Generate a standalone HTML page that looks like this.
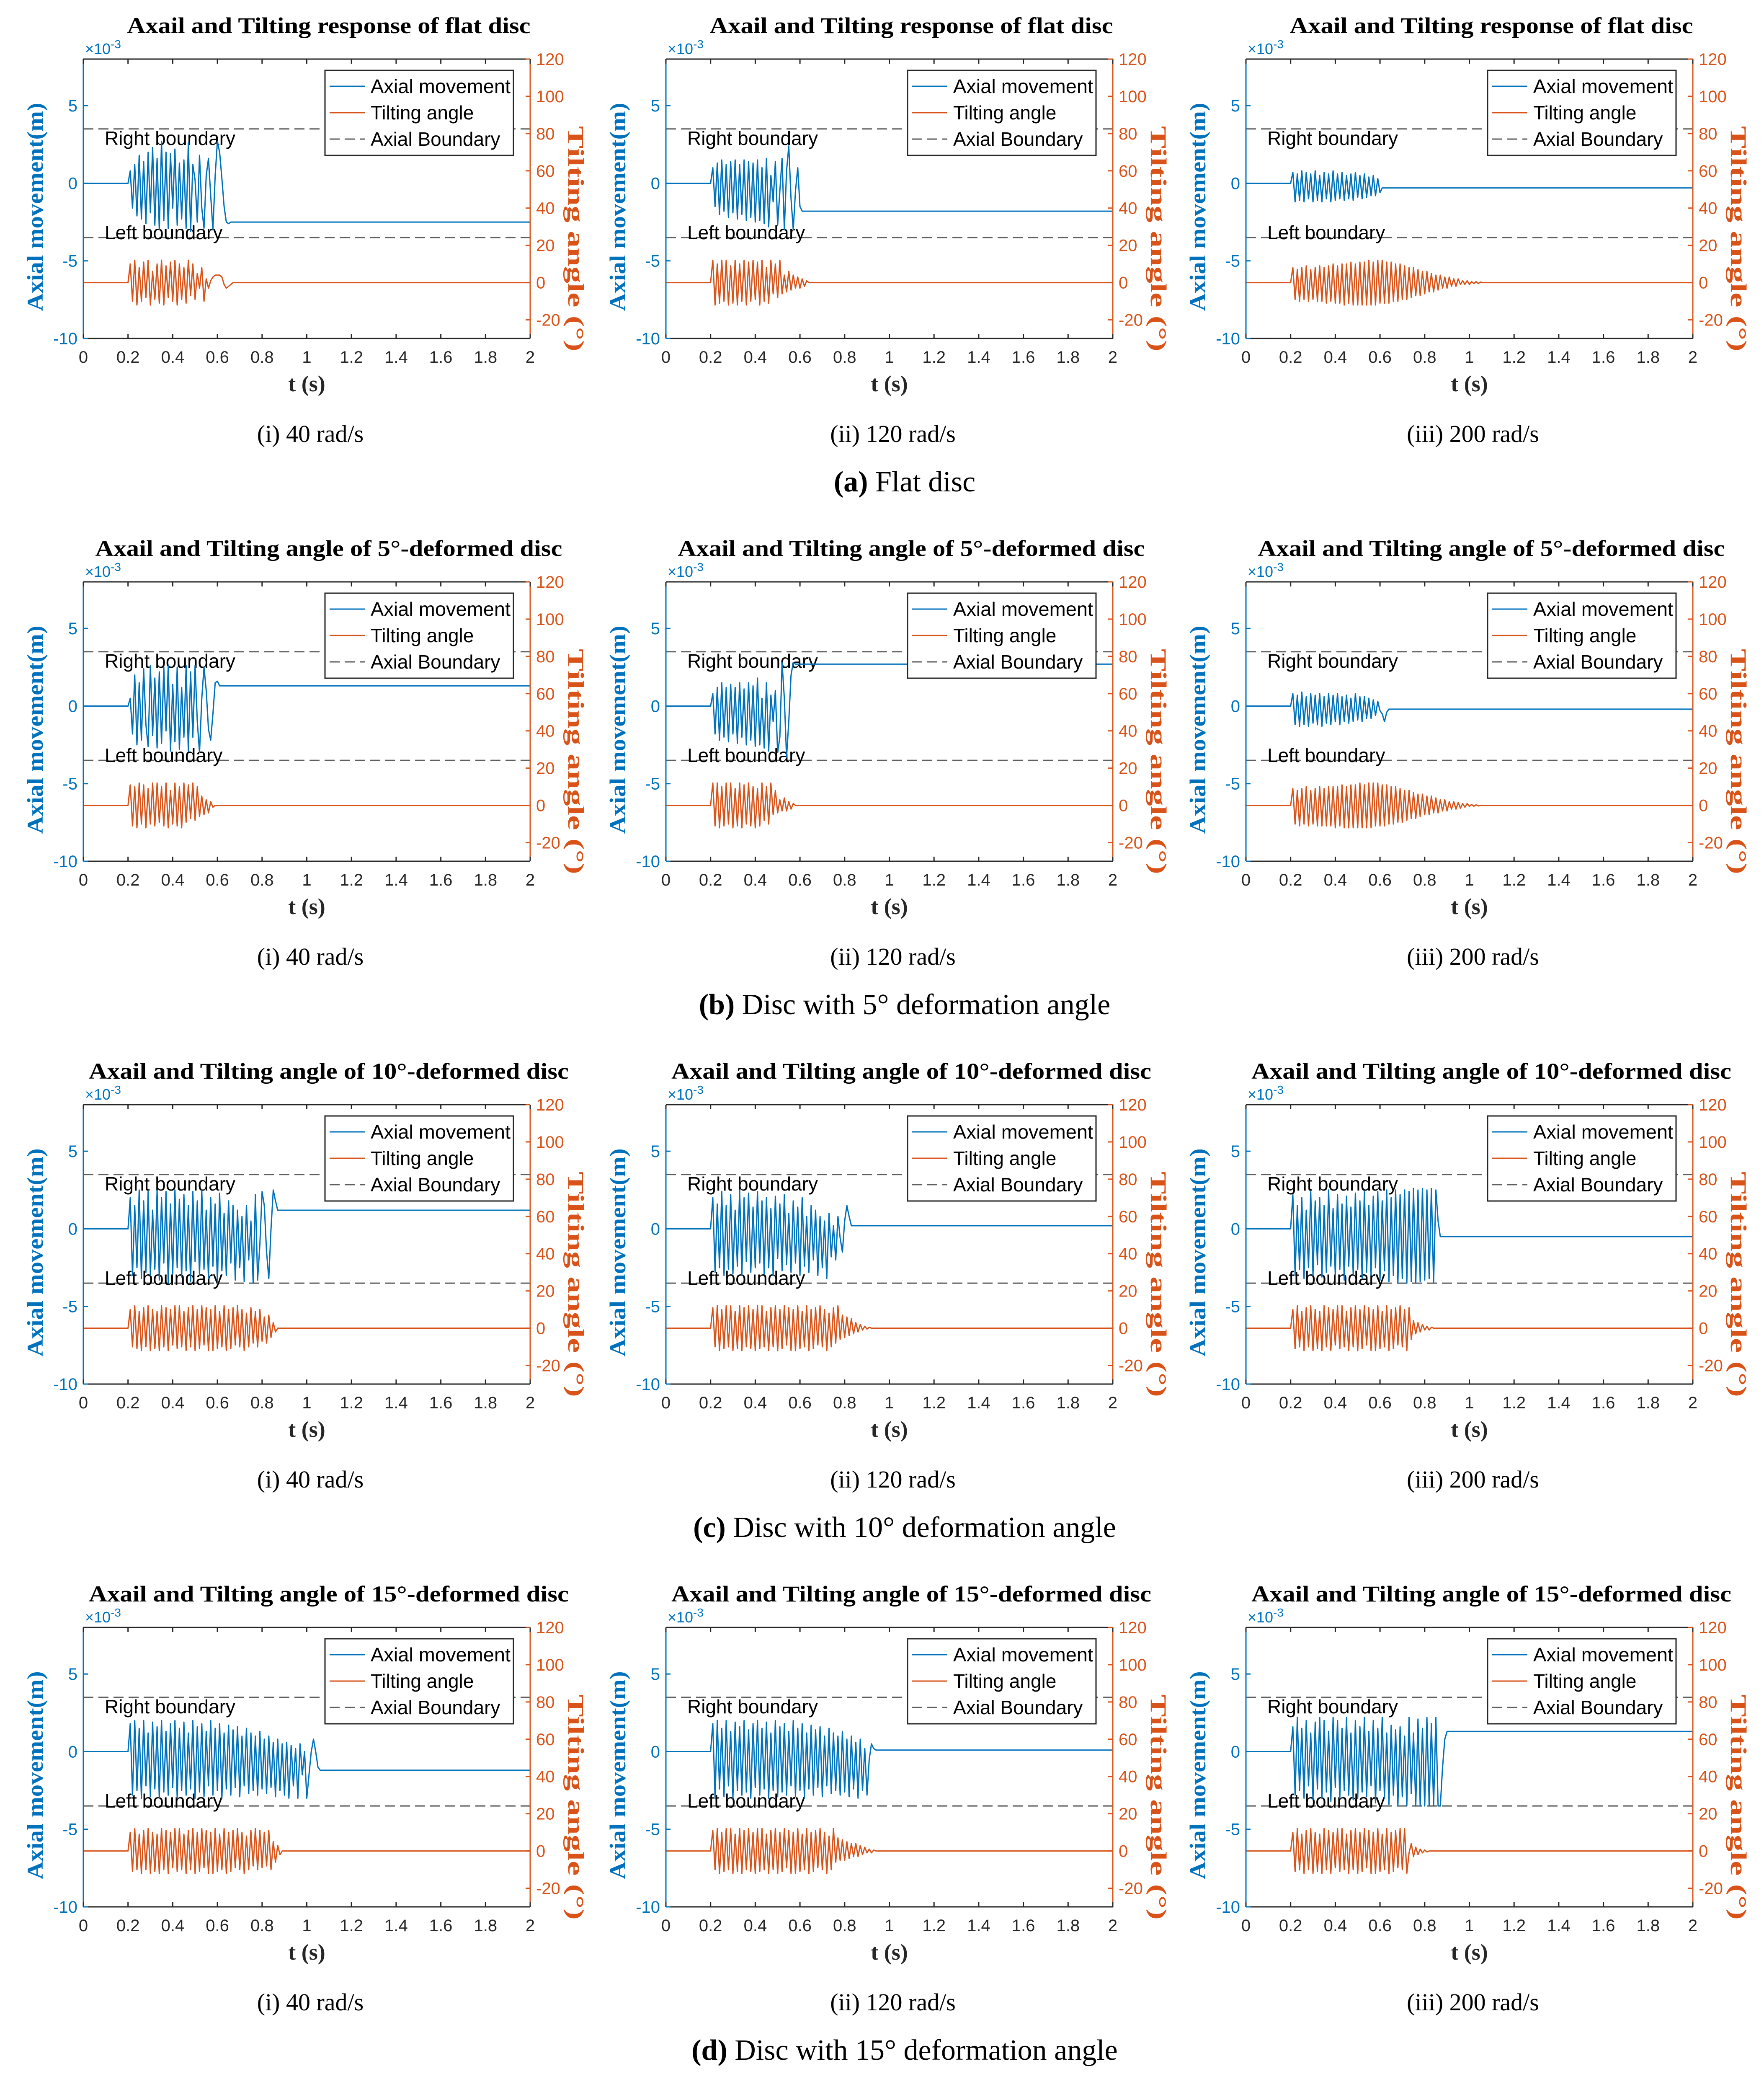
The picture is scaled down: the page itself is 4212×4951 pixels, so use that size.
<!DOCTYPE html>
<html><head><meta charset="utf-8"><style>
html,body{margin:0;padding:0;background:#fff;}
svg{display:block;}
</style></head><body>
<svg id="fig" xmlns="http://www.w3.org/2000/svg" width="4212" height="4951" viewBox="0 0 4212 4951">
<rect width="4212" height="4951" fill="#fff"/>
</svg>
<script>
// ---- data (t starts at 0.2 s, step 0.01 s; before start value 0; after end hold last value) ----
const xTicks = [0,0.2,0.4,0.6,0.8,1,1.2,1.4,1.6,1.8,2];
const xTickLabels = ['0','0.2','0.4','0.6','0.8','1','1.2','1.4','1.6','1.8','2'];
const yLeftTicks = [-10,-5,0,5];
const yRightTicks = [-20,0,20,40,60,80,100,120];
const boundaries = [3.5,-3.5];
const rowTitles = ['Axail and Tilting response of flat disc','Axail and Tilting angle of 5°-deformed disc','Axail and Tilting angle of 10°-deformed disc','Axail and Tilting angle of 15°-deformed disc'];
const colSubtitles = ['(i) 40 rad/s','(ii) 120 rad/s','(iii) 200 rad/s'];
const captionTags = ['(a)','(b)','(c)','(d)'];
const captionTexts = ['Flat disc','Disc with 5° deformation angle','Disc with 10° deformation angle','Disc with 15° deformation angle'];
const tStart = 0.2, tStep = 0.01;

const axial_r1c1=[0,0.8,-1.6,1.2,-2.1,1.8,-2.3,1.4,-2.6,2.0,-1.9,2.3,-2.7,1.6,-3.0,2.7,-2.4,2.0,-2.9,1.9,-1.6,2.2,-2.7,1.3,-2.3,1.5,-2.9,2.6,-3.1,1.2,0.2,-2.5,1.8,-1.6,-2.9,0.5,1.6,-0.8,-3.0,0.5,2.7,2.0,0.3,-1.5,-2.5,-2.6,-2.5,-2.5];
const tilt_r1c1=[0,10,-10,12,-12,8,-10,11,-8,12,-12,6,-9,10,-11,12,-12,9,-8,11,-10,12,-12,10,-9,8,-11,12,-7,10,-9,5,-3,8,-10,2,-3,1,3,4,4,4,3,-1,-3,-2,-1,0,0];
const axial_r1c2=[0,1,-1.5,1.3,-2,1.5,-1.8,1.2,-2.2,1.4,-1.9,1.5,-2.3,1.2,-2,1.5,-2.4,1.4,-2.2,1.3,-2.5,1.5,-2.4,1,-2.6,1.6,-2.8,0.5,-1.2,1.4,-2.7,-0.5,1.6,-3,0.8,2.4,-1,-3,-0.5,1,-1.5,-1.8,-1.8,-1.8];
const tilt_r1c2=[0,12,-12,10,-11,12,-10,12,-12,9,-11,12,-12,10,-10,12,-12,11,-10,12,-9,11,-12,12,-10,8,-11,12,-6,10,-8,12,-6,4,-5,6,-4,4,-3,3,-3,2,-2,1,0,0,0];
const axial_r1c3=[0,0.7,-1.2,0.6,-1.1,0.8,-1.2,0.7,-1,0.6,-1.2,0.8,-1.1,0.5,-1.2,0.7,-1,0.6,-1.2,0.8,-1.1,0.6,-1,0.7,-1.1,0.5,-1,0.6,-1.1,0.7,-0.9,0.5,-1,0.6,-0.9,0.4,-0.8,0.5,-0.8,0.3,-0.6,-0.3,-0.3];
const tilt_r1c3=[0,8,-9,7,-10,8,-9,9,-10,7,-9,8,-10,9,-10,8,-11,9,-10,10,-11,9,-11,10,-12,10,-11,11,-12,10,-12,11,-12,11,-12,12,-12,11,-12,12,-11,12,-11,11,-11,11,-10,10,-10,10,-9,9,-9,8,-8,8,-7,7,-7,6,-6,6,-5,5,-5,4,-4,4,-3,3,-3,3,-2,2,-2,2,-1,1,-1,1,-1,0.5,-0.5,0.5,-0.5,0.3,0,0];
const axial_r2c1=[0,0.5,-1.8,2,-2.5,1.5,-2.2,2.4,-1.2,-2.6,2.6,-1.9,1.8,-2.7,2.2,-2.4,2.5,-1.6,2.6,-2.9,1.4,-2.3,2.5,-2.8,1.2,-2,2.6,-2.9,2.2,-2,2.6,-1,-3,0.5,2.5,1,-1.5,-2.2,-0.5,1.5,1.6,1.3,1.3];
const tilt_r2c1=[0,11,-11,10,-12,12,-10,11,-12,9,-10,12,-11,12,-9,10,-11,12,-12,8,-10,12,-11,10,-12,12,-9,11,-7,12,-8,10,-6,5,-5,3,-4,2,-1,0,0,0];
const axial_r2c2=[0,0.8,-1.8,1.2,-2.2,1.5,-2,1.2,-2.3,1.4,-1.8,1.2,-2.4,1.5,-2,1.1,-2.5,1.5,-2.2,1.3,-2.6,1.8,-2.5,0.5,-2.7,1.5,-2.9,0.7,-1,1,-3,-2,2.8,0.5,-3.3,-1,2,2.8,2.7,2.7];
const tilt_r2c2=[0,12,-11,12,-12,10,-11,12,-10,12,-12,9,-11,12,-12,11,-10,12,-11,10,-12,9,-11,12,-8,10,-10,12,-5,8,-4,3,-3,4,-3,2,-2,1,0,0,0];
const axial_r2c3=[0,0.8,-1.2,0.7,-1.3,0.9,-1.2,0.6,-1.3,0.8,-1.1,0.7,-1.2,0.8,-1.3,0.6,-1.1,0.8,-1.2,0.7,-1,0.8,-1.2,0.6,-1,0.7,-1.1,0.5,-1,0.8,-0.9,0.6,-1,0.6,-0.8,0.5,-0.8,0.4,-0.6,0.3,-0.3,-0.5,-1,-0.4,-0.2,-0.2];
const tilt_r2c3=[0,9,-10,8,-11,9,-10,10,-11,8,-10,9,-11,10,-11,9,-11,10,-11,10,-12,10,-11,11,-12,10,-12,11,-12,11,-12,12,-12,11,-12,12,-12,12,-11,12,-11,11,-11,11,-10,10,-10,10,-9,9,-9,8,-8,8,-7,7,-7,6,-6,6,-5,5,-5,5,-4,4,-4,3,-3,3,-3,2,-2,2,-2,1.5,-1.5,1,-1,1,-0.5,0.5,-0.5,0.3,-0.3,0,0,0];
const axial_r3c1=[0,2,-3,1.5,-2.5,2.5,-3.2,1.8,-2.8,2.4,-3,1.2,-2.6,2.5,-3.3,2,-2.2,2.4,-3.5,1.6,-2.9,2.5,-2.5,1.9,-3.1,2.2,-2.7,1.5,-3.4,2.4,-2.1,1.8,-3,2.5,-2.6,1.2,-3.2,2,-2.4,1.6,-3.5,2.3,-2.7,1,-3,1.8,-2.2,1.5,-3.3,1.2,-2.5,0.8,-3.4,1.5,-2,0.5,-3.5,2.2,-3.3,-1,2.4,1.5,-1.5,-3.2,0,2.5,1.8,1.2,1.2];
const tilt_r3c1=[0,10,-10,12,-11,9,-12,11,-10,12,-12,10,-11,9,-12,12,-10,11,-12,10,-9,12,-11,12,-10,9,-12,11,-10,12,-12,10,-11,12,-9,11,-12,10,-12,12,-11,9,-10,12,-12,10,-11,11,-9,12,-10,10,-12,8,-10,11,-8,9,-10,10,-7,6,-8,7,-5,3,-2,0,0];
const axial_r3c2=[0,2,-2.8,1.6,-2.5,2.4,-3,1.5,-2.6,2.2,-2.9,1.2,-2.4,2.5,-3,2,-2.1,2.3,-2.8,1.4,-2.5,2.4,-2.2,1.8,-2.9,2,-2.5,1.3,-3,2.1,-1.9,1.6,-2.7,2.2,-2.3,1,-2.8,1.8,-2.2,1.4,-3,2,-2.4,0.8,-2.8,1.5,-2,1.2,-3,0.8,-2.5,0.5,-3.2,1,-1.8,0.2,-2,0.8,-0.6,-1.5,0.5,1.5,0.8,0.2,0.2];
const tilt_r3c2=[0,11,-10,12,-12,10,-11,12,-10,12,-12,9,-11,12,-12,11,-10,12,-11,10,-12,12,-11,12,-10,9,-12,11,-10,12,-12,10,-11,12,-9,11,-12,10,-12,12,-11,9,-10,12,-12,10,-11,11,-9,12,-10,10,-12,8,-10,11,-8,12,-6,7,-5,6,-4,5,-3,3,-2,2,-1,1,-0.5,0.5,0,0];
const axial_r3c3=[0,2.2,-3,1.5,-2.6,2,-3.2,1.2,-2.5,2.4,-3,1.8,-2.3,2,-3.1,1.5,-2.8,2.5,-2.4,1.3,-3,2.2,-2.6,1.6,-3.3,2.1,-2.4,1.4,-2.9,2.3,-2.6,1.8,-3.2,2.4,-2.8,1.5,-3,2.1,-2.5,2.4,-3.3,1.8,-2.7,2.5,-3.4,2,-3,2.5,-3.5,2.2,-3.2,2.5,-3.5,2.4,-3.4,2.6,-3.5,2.5,-3.4,2.6,-3.3,2.5,-3.2,2.6,-3.5,2.5,0.5,-0.5,-0.5];
const tilt_r3c3=[0,10,-11,12,-10,9,-12,11,-10,12,-12,10,-11,9,-12,12,-10,11,-12,10,-9,12,-11,12,-10,9,-12,11,-10,12,-12,10,-11,12,-9,11,-12,10,-12,12,-11,9,-10,12,-12,10,-11,11,-9,12,-10,10,-12,11,-6,4,-3,3,-2,2,-1,1,-1,0.5,0,0];
const axial_r4c1=[0,1.8,-2.8,2,-2.5,1.5,-3,2,-2.2,1.2,-2.9,1.9,-2.4,1.6,-3,2,-2.6,1.3,-2.8,1.8,-2.3,2,-3,1.5,-2.5,1.9,-2.8,1.2,-2.4,2,-3,1.6,-2.6,1.8,-2.9,1.3,-2.2,2,-2.8,1.5,-2.5,1.8,-3,1.2,-2.4,1.7,-2.8,1.4,-2.3,1.6,-2.9,1,-2.2,1.5,-2.7,1.2,-2.5,1,-2.8,1.3,-2.4,0.8,-2.7,1,-2.3,0.6,-2.9,0.8,-2.5,0.5,-2.8,0.6,-3,0.4,-2.2,0.2,-3,0.5,-1.5,0,-3,-1.5,0,0.8,0,-1,-1.2,-1.2];
const tilt_r4c1=[0,10,-11,12,-10,9,-12,11,-10,12,-12,10,-11,9,-12,12,-10,11,-12,10,-9,12,-11,12,-10,9,-12,11,-10,12,-12,10,-11,12,-9,11,-12,10,-12,12,-11,9,-10,12,-12,10,-11,11,-9,12,-10,10,-12,8,-10,11,-8,12,-10,11,-9,10,-8,11,-10,5,-6,3,-2,0,0];
const axial_r4c2=[0,1.8,-3,2,-2.4,1.5,-2.9,2,-2.2,1.3,-3,1.9,-2.5,1.6,-2.8,2,-2.6,1.4,-3,1.8,-2.3,2,-2.8,1.5,-2.4,1.9,-3,1.2,-2.5,2,-2.9,1.6,-2.6,1.8,-2.8,1.3,-2.2,2,-2.9,1.5,-2.5,1.8,-3,1.2,-2.4,1.7,-2.8,1.4,-2.3,1.6,-2.9,1,-2.2,1.5,-2.7,1.2,-2.5,1,-2.8,1.3,-2.6,0.8,-2.9,1,-2.4,0.6,-3,0.8,-2.5,0.2,-2.8,-0.5,0.5,0.2,0.1,0.1];
const tilt_r4c2=[0,11,-10,12,-12,10,-11,12,-10,12,-12,9,-11,12,-12,11,-10,12,-11,10,-12,12,-11,12,-10,9,-12,11,-10,12,-12,10,-11,12,-9,11,-12,10,-12,12,-11,9,-10,12,-12,10,-11,11,-9,12,-10,10,-12,8,-10,12,-6,7,-5,6,-5,5,-4,4,-3,4,-3,3,-2,2,-1,1,-1,0.5,0,0];
const axial_r4c3=[0,1.6,-2.8,2.2,-2.5,1.5,-3,2,-2.2,1.2,-3.1,1.9,-2.4,2.2,-3,2,-2.6,1.3,-3.2,2.2,-2.3,2,-3,1.5,-2.5,2.2,-2.8,1.2,-3.1,2,-3,1.6,-2.6,2.2,-2.9,1.3,-2.2,2,-3.3,1.5,-2.5,2.2,-3,1.2,-3.4,1.7,-2.8,1.4,-3.5,1.6,-2.9,1,-3.5,2.2,-2.7,1.2,-3.5,2.1,-3.5,1.5,-3.5,2.2,-3.5,1.8,-3.5,2.2,-3.5,-3.5,-1,0.8,1.3,1.3];
const tilt_r4c3=[0,10,-11,12,-10,9,-12,11,-10,12,-12,10,-11,9,-12,12,-10,11,-12,10,-9,12,-11,12,-10,9,-12,11,-10,12,-12,10,-11,12,-9,11,-12,10,-12,12,-11,9,-10,12,-12,10,-11,11,-9,12,-10,12,-12,-1,4,-3,2,-2,1,-1,0.5,-0.5,0,0];

const axialSeries=[[axial_r1c1,axial_r1c2,axial_r1c3],[axial_r2c1,axial_r2c2,axial_r2c3],[axial_r3c1,axial_r3c2,axial_r3c3],[axial_r4c1,axial_r4c2,axial_r4c3]];
const tiltSeries=[[tilt_r1c1,tilt_r1c2,tilt_r1c3],[tilt_r2c1,tilt_r2c2,tilt_r2c3],[tilt_r3c1,tilt_r3c2,tilt_r3c3],[tilt_r4c1,tilt_r4c2,tilt_r4c3]];

// ---- layout ----
const NS='http://www.w3.org/2000/svg';
const svg=document.getElementById('fig');
const COLS=[199,1590,2975], ROW0=141, PITCH=1248, W=1067, H=667;
const BLUE='#0072BD', ORANGE='#D95319', DARK='#262626';
const titleLens=[963,1115,1146,1146];
function el(tag,attrs,parent,txt){const e=document.createElementNS(NS,tag);for(const k in attrs)e.setAttribute(k,attrs[k]);if(txt!==undefined)e.textContent=txt;(parent||svg).appendChild(e);return e;}

function seriesPath(vals,xs,ys){
  let d='M'+xs(0)+','+ys(0)+' L'+xs(tStart)+','+ys(0);
  for(let i=0;i<vals.length;i++){d+=' L'+xs(tStart+i*tStep).toFixed(1)+','+ys(vals[i]).toFixed(1);}
  d+=' L'+xs(2)+','+ys(vals[vals.length-1]).toFixed(1);
  return d;
}

for(let r=0;r<4;r++){
  const T=ROW0+r*PITCH;
  for(let c=0;c<3;c++){
    const L=COLS[c];
    const g=el('g',{});
    
    
    const xs=t=>L+t/2*W;
    const ysL=v=>T+(8-v)/18*H;
    const ysR=v=>T+(120-v)/150*H;
    const ti=el('text',{x:L+586,y:T-62,'text-anchor':'middle','font-family':'"Liberation Serif",serif','font-weight':'bold','font-size':54,textLength:titleLens[r],lengthAdjust:'spacingAndGlyphs',fill:'#000'},g,rowTitles[r]);
    
    
    boundaries.forEach(b=>{
      const ln=el('line',{x1:L,x2:L+W,y1:ysL(b),y2:ysL(b),stroke:'#5f5f5f','stroke-width':3,'stroke-dasharray':'24,12'},g);
      
      
    });
    const rb=el('text',{x:L+51,y:ysL(3.5)+38,'font-family':'"Liberation Sans",sans-serif','font-size':46,fill:'#000'},g,'Right boundary');
    
    
    const lb=el('text',{x:L+51,y:ysL(-3.5)+4,'font-family':'"Liberation Sans",sans-serif','font-size':46,fill:'#000'},g,'Left boundary');
    
    
    const pa=el('path',{d:seriesPath(axialSeries[r][c],xs,ysL),fill:'none',stroke:BLUE,'stroke-width':3,'stroke-linejoin':'round'},g);
    
    
    const pt=el('path',{d:seriesPath(tiltSeries[r][c],xs,ysR),fill:'none',stroke:ORANGE,'stroke-width':3,'stroke-linejoin':'round'},g);
    
    
    el('line',{x1:L,x2:L+W,y1:T,y2:T,stroke:DARK,'stroke-width':3},g);
    el('line',{x1:L,x2:L+W,y1:T+H,y2:T+H,stroke:DARK,'stroke-width':3},g);
    el('line',{x1:L,x2:L,y1:T,y2:T+H,stroke:BLUE,'stroke-width':3},g);
    el('line',{x1:L+W,x2:L+W,y1:T,y2:T+H,stroke:ORANGE,'stroke-width':3},g);
    xTicks.forEach((t,i)=>{
      el('line',{x1:xs(t),x2:xs(t),y1:T+H,y2:T+H-11,stroke:DARK,'stroke-width':3},g);
      el('line',{x1:xs(t),x2:xs(t),y1:T,y2:T+11,stroke:DARK,'stroke-width':3},g);
      const tl=el('text',{x:xs(t),y:T+H+58,'text-anchor':'middle','font-family':'"Liberation Sans",sans-serif','font-size':40,fill:DARK},g,xTickLabels[i]);
      
      
    });
    yLeftTicks.forEach(v=>{
      el('line',{x1:L,x2:L+11,y1:ysL(v),y2:ysL(v),stroke:BLUE,'stroke-width':3},g);
      const tl=el('text',{x:L-14,y:ysL(v)+14,'text-anchor':'end','font-family':'"Liberation Sans",sans-serif','font-size':40,fill:BLUE},g,String(v));
      
      
    });
    yRightTicks.forEach(v=>{
      el('line',{x1:L+W,x2:L+W-11,y1:ysR(v),y2:ysR(v),stroke:ORANGE,'stroke-width':3},g);
      const tl=el('text',{x:L+W+14,y:ysR(v)+14,'text-anchor':'start','font-family':'"Liberation Sans",sans-serif','font-size':40,fill:ORANGE},g,String(v));
      
      
    });
    const ex=el('text',{x:L+4,y:T-12,'font-family':'"Liberation Sans",sans-serif','font-size':36,fill:BLUE},g);
    
    
    el('tspan',{},ex,'×10');
    el('tspan',{dy:-14,'font-size':28},ex,'-3');
    const yl=el('text',{x:0,y:0,transform:'translate('+(L-97)+','+(T+353)+') rotate(-90)','text-anchor':'middle','font-family':'"Liberation Serif",serif','font-weight':'bold','font-size':54,textLength:497,lengthAdjust:'spacingAndGlyphs',fill:BLUE},g,'Axial movement(m)');
    
    
    const yr=el('text',{x:0,y:0,transform:'translate('+(L+W+91)+','+(T+429)+') rotate(90)','text-anchor':'middle','font-family':'"Liberation Serif",serif','font-weight':'bold','font-size':54,textLength:538,lengthAdjust:'spacingAndGlyphs',fill:ORANGE},g,'Tilting angle (°)');
    
    
    const xl=el('text',{x:L+W/2,y:T+H+126,'text-anchor':'middle','font-family':'"Liberation Serif",serif','font-weight':'bold','font-size':54,fill:DARK},g,'t (s)');
    
    
    const lg=el('g',{},g);
    
    
    el('rect',{x:L+577,y:T+27,width:450,height:203,fill:'#fff',stroke:DARK,'stroke-width':3},lg);
    const items=[['Axial movement',BLUE,''],['Tilting angle',ORANGE,''],['Axial Boundary','#5f5f5f','24,12']];
    items.forEach((it,i)=>{
      const yy=T+65+i*63;
      el('line',{x1:L+588,x2:L+672,y1:yy,y2:yy,stroke:it[1],'stroke-width':3,'stroke-dasharray':it[2]||'none'},lg);
      const attrs={x:L+686,y:yy+16,'font-family':'"Liberation Sans",sans-serif','font-size':46,fill:'#000'};
      if(i===0){attrs.textLength=334;attrs.lengthAdjust='spacingAndGlyphs';}
      const lt=el('text',attrs,lg,it[0]);
      
      
    });
    const st=el('text',{x:L+542,y:T+914,'text-anchor':'middle','font-family':'"Liberation Serif",serif','font-size':58,fill:'#000'},g,colSubtitles[c]);
    
    
  }
  const cap=el('text',{x:2160,y:T+1032,'text-anchor':'middle','font-family':'"Liberation Serif",serif','font-size':70,fill:'#000'});
  
  
  el('tspan',{'font-weight':'bold'},cap,captionTags[r]);
  el('tspan',{},cap,'  '+captionTexts[r]);
}
</script>
</body></html>
